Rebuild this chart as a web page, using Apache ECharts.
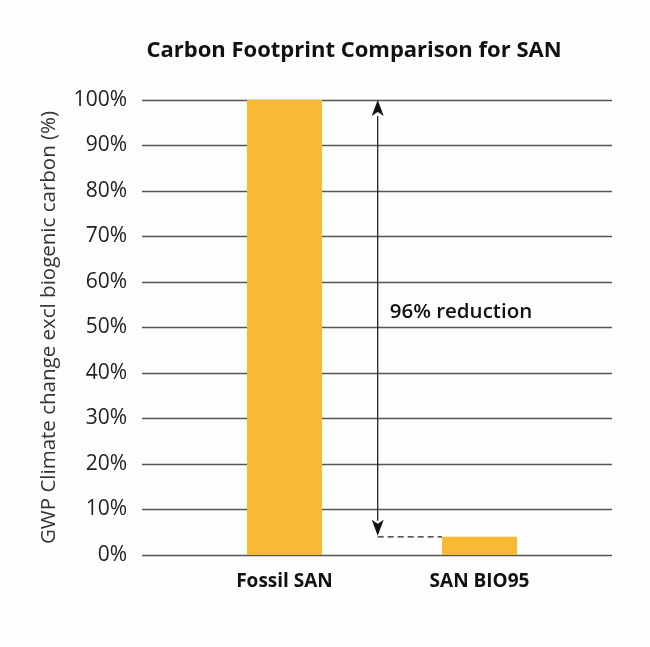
<!DOCTYPE html>
<html><head><meta charset="utf-8">
<script src="https://cdn.jsdelivr.net/npm/echarts@6/dist/echarts.min.js"></script>
<style>html,body{margin:0;padding:0;background:#fdfdfb;}#c{width:650px;height:647px;}</style>
</head><body><div id="c"></div>
<script>
var categories = ['Fossil SAN', 'SAN BIO95'];
var values = [100, 4];
var yTicks = [0, 10, 20, 30, 40, 50, 60, 70, 80, 90, 100];
var titleText = 'Carbon Footprint Comparison for SAN';
var yName = 'GWP Climate change excl biogenic carbon (%)';

var chart = echarts.init(document.getElementById('c'), null, {renderer: 'canvas'});
var font = '"Open Sans", "Noto Sans", sans-serif';
var option = {
  backgroundColor: '#fdfdfb',
  animation: false,
  title: {text: titleText, left: 349, textAlign: 'center', top: 35,
    textStyle: {fontFamily: font, fontSize: 22, fontWeight: 'bold', color: '#111'}},
  grid: [
    {left: 142, right: 38, top: 100, bottom: 92},
    {left: 187, right: 73, top: 100, bottom: 92}
  ],
  xAxis: [
    {gridIndex: 0, type: 'category', data: categories, show: false},
    {gridIndex: 1, type: 'category', data: categories,
      axisLine: {show: false}, axisTick: {show: false},
      axisLabel: {fontFamily: font, fontSize: 19, fontWeight: 'bold', color: '#111', margin: 17}}
  ],
  yAxis: [
    {gridIndex: 0, type: 'value', min: 0, max: 100, interval: 10,
      name: yName, nameLocation: 'middle', nameGap: 82,
      nameTextStyle: {fontFamily: font, fontSize: 20.5, color: '#333'},
      axisLine: {show: false}, axisTick: {show: false},
      axisLabel: {fontFamily: font, fontSize: 21, color: '#222', margin: 15,
        formatter: function (v) { return yTicks.indexOf(v) >= 0 ? v + '%' : ''; }},
      splitLine: {lineStyle: {color: '#555', width: 1.3}}},
    {gridIndex: 1, type: 'value', min: 0, max: 100, interval: 10, show: false,
      splitLine: {show: false}}
  ],
  series: [{
    type: 'bar', xAxisIndex: 1, yAxisIndex: 1, data: values, barWidth: 75,
    itemStyle: {color: '#f8b935'}
  }]
};
chart.setOption(option);

function addAnnotation() {
  var p0 = chart.convertToPixel({xAxisIndex: 1}, categories[0]);
  var p1 = chart.convertToPixel({xAxisIndex: 1}, categories[1]);
  var x = p0 + 0.478 * (p1 - p0);
  var yTop = chart.convertToPixel({yAxisIndex: 1}, values[0]);
  var yBot = chart.convertToPixel({yAxisIndex: 1}, values[1]);
  var barLeft = p1 - 75 / 2;
  var ah = 16, aw = 6;
  var reduction = Math.round((values[0] - values[1]) / values[0] * 100);
  chart.setOption({
    graphic: [
      {type: 'line', shape: {x1: x, y1: yTop + ah, x2: x, y2: yBot - ah}, style: {stroke: '#111', lineWidth: 1.2}},
      {type: 'polygon', shape: {points: [[x, yTop], [x - aw, yTop + ah], [x, yTop + ah - 4], [x + aw, yTop + ah]]}, style: {fill: '#111'}},
      {type: 'polygon', shape: {points: [[x, yBot - 1], [x - aw, yBot - ah - 1], [x, yBot - ah + 3], [x + aw, yBot - ah - 1]]}, style: {fill: '#111'}},
      {type: 'line', shape: {x1: x, y1: yBot, x2: barLeft, y2: yBot}, style: {stroke: '#222', lineWidth: 1.2, lineDash: [6, 4]}},
      {type: 'text', x: x + 12, y: chart.convertToPixel({yAxisIndex: 1}, 53.3),
        style: {text: reduction + '% reduction', font: '600 20.5px "Open Sans", "Noto Sans", sans-serif', fill: '#111', verticalAlign: 'middle'}}
    ]
  });
}
addAnnotation();
</script></body></html>
